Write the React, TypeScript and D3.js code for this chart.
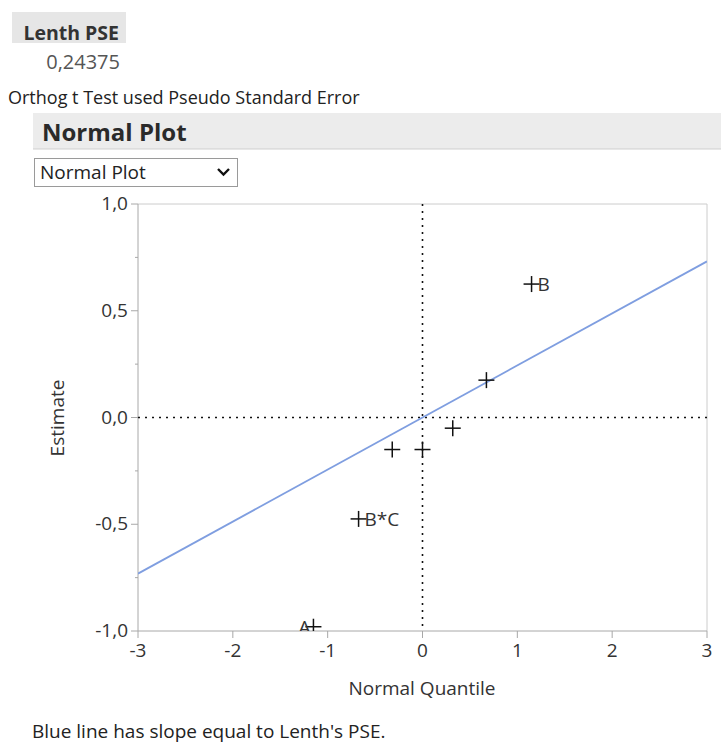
import React from "react";
import * as d3 from "d3";

const effectLabels = ["A", "B*C", "", "", "", "", "B"];
const quantiles = [-1.15, -0.674, -0.319, 0, 0.319, 0.674, 1.15];
const estimates = [-0.98, -0.475, -0.15, -0.15, -0.05, 0.175, 0.625];
const lenthPSE = 0.24375;
const xTicks = [-3, -2, -1, 0, 1, 2, 3];
const yTicks = [1, 0.5, 0, -0.5, -1];
const yMinorTicks = [0.75, 0.25, -0.25, -0.75];

const FONT = "'Open Sans', 'Noto Sans', sans-serif";
const fmt = (v: number) => (v < 0 ? "-" : "") + Math.abs(v).toFixed(1).replace(".", ",");

export default function App() {
  const W = 721, H = 744;
  const left = 138, right = 707, top = 204, bottom = 631;
  const x = d3.scaleLinear().domain([-3, 3]).range([left, right]);
  const y = d3.scaleLinear().domain([-1, 1]).range([bottom, top]);
  const line = d3.line<number>().x((q) => x(q)).y((q) => y(q * lenthPSE));
  const arm = 8;
  const fs = 19;

  return (
    <svg width={W} height={H} style={{ position: "absolute", left: 0, top: 0, background: "#fff" }} fontFamily={FONT}>
      <defs>
        <clipPath id="plotclip">
          <rect x={left} y={top} width={right - left} height={bottom - top} />
        </clipPath>
      </defs>
      {/* header */}
      <rect x={12} y={12} width={114} height={31} fill="#e6e6e6" />
      <text x={119} y={40} textAnchor="end" fontWeight="bold" fontSize={19.5} fill="#333">Lenth PSE</text>
      <text x={120} y={69} textAnchor="end" fontSize={20} fill="#555">0,24375</text>
      <text x={8} y={104} fontSize={18} fill="#222">Orthog t Test used Pseudo Standard Error</text>
      <rect x={33} y={113} width={688} height={36} fill="#ececec" />
      <line x1={33} x2={721} y1={149} y2={149} stroke="#cfcfcf" />
      <text x={42} y={141} fontSize={24} fontWeight="bold" fill="#2a2a2a">Normal Plot</text>
      <rect x={34.5} y={158.5} width={203} height={28} fill="#fff" stroke="#9a9a9a" />
      <text x={40} y={179} fontSize={fs} fill="#222">Normal Plot</text>
      <path d="M218,169 L223.5,174.5 L229,169" fill="none" stroke="#111" strokeWidth={2.4} />

      {/* frame */}
      <line x1={left} x2={right} y1={top} y2={top} stroke="#cccccc" />
      <line x1={right} x2={right} y1={top} y2={bottom} stroke="#cccccc" />
      <line x1={left} x2={right} y1={bottom} y2={bottom} stroke="#a8a8a8" />
      <line x1={left} x2={left} y1={top} y2={bottom} stroke="#a8a8a8" />

      {/* y ticks */}
      {yTicks.map((t) => (
        <g key={"y" + t}>
          <line x1={left - 7} x2={left} y1={y(t)} y2={y(t)} stroke="#a8a8a8" />
          <text x={128} y={y(t) + 6} textAnchor="end" fontSize={fs} fill="#333">{fmt(t)}</text>
        </g>
      ))}
      {yMinorTicks.map((t) => (
        <line key={"ym" + t} x1={left - 3} x2={left} y1={y(t)} y2={y(t)} stroke="#a8a8a8" />
      ))}
      {/* x ticks */}
      {xTicks.map((t) => (
        <g key={"x" + t}>
          <line x1={x(t)} x2={x(t)} y1={bottom} y2={bottom + 7} stroke="#a8a8a8" />
          <text x={x(t)} y={657} textAnchor="middle" fontSize={fs} fill="#333">{t}</text>
        </g>
      ))}
      <text x={422} y={695} textAnchor="middle" fontSize={fs} fill="#333">Normal Quantile</text>
      <text transform={`translate(64,418) rotate(-90)`} textAnchor="middle" fontSize={fs} fill="#333">Estimate</text>

      <g clipPath="url(#plotclip)">
        {/* reference lines */}
        <line x1={x(0)} x2={x(0)} y1={top} y2={bottom} stroke="#111" strokeWidth={1.6} strokeDasharray="2,5" />
        <line x1={left} x2={right} y1={y(0)} y2={y(0)} stroke="#111" strokeWidth={1.6} strokeDasharray="2,5" />
        {/* blue line */}
        <path d={line([-3, 3]) || ""} fill="none" stroke="#7f9ee0" strokeWidth={1.8} />
        {/* points */}
        {quantiles.map((q, i) => {
          const cx = x(q), cy = y(estimates[i]);
          const lab = effectLabels[i];
          return (
            <g key={"p" + i}>
              <line x1={cx - arm} x2={cx + arm} y1={cy} y2={cy} stroke="#111" strokeWidth={1.5} />
              <line x1={cx} x2={cx} y1={cy - arm} y2={cy + arm} stroke="#111" strokeWidth={1.5} />
              {lab && (
                <text
                  x={lab === "A" ? cx - 3 : cx + 6}
                  y={cy + 7}
                  textAnchor={lab === "A" ? "end" : "start"}
                  fontSize={fs}
                  fill="#333"
                >{lab}</text>
              )}
            </g>
          );
        })}
      </g>

      <text x={32} y={738} fontSize={fs} fill="#222">Blue line has slope equal to Lenth's PSE.</text>
    </svg>
  );
}
